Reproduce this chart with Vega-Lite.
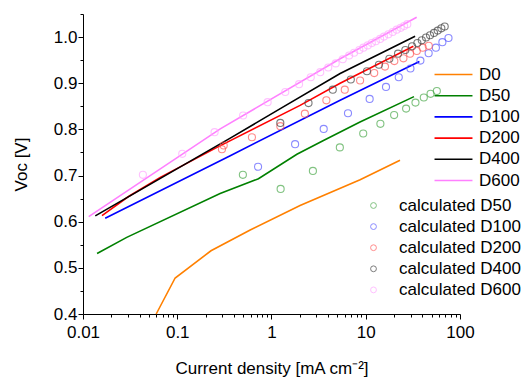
{
  "$schema": "https://vega.github.io/schema/vega-lite/v6.json",
  "width": 377,
  "height": 300,
  "autosize": "none",
  "padding": {"left": 83, "top": 14, "right": 69, "bottom": 66},
  "config": {
    "font": "Liberation Sans",
    "view": {"stroke": null},
    "axis": {"grid": false, "domainColor": "#000", "tickColor": "#000", "labelColor": "#000", "titleColor": "#000", "labelFontSize": 17, "titleFontSize": 17, "titleFontWeight": "normal", "labelFont": "Liberation Sans", "titleFont": "Liberation Sans"},
    "legend": {"labelFont": "Liberation Sans", "labelFontSize": 17, "labelColor": "#000", "padding": 0, "titlePadding": 0}
  },
  "datasets": {
    "lines": [
      {"x": 0.0598, "y": 0.4, "series": "D0"},
      {"x": 0.095, "y": 0.478, "series": "D0"},
      {"x": 0.228, "y": 0.537, "series": "D0"},
      {"x": 0.594, "y": 0.582, "series": "D0"},
      {"x": 2.01, "y": 0.635, "series": "D0"},
      {"x": 8.71, "y": 0.691, "series": "D0"},
      {"x": 23.1, "y": 0.733, "series": "D0"},
      {"x": 0.0141, "y": 0.531, "series": "D50"},
      {"x": 0.0291, "y": 0.566, "series": "D50"},
      {"x": 0.285, "y": 0.661, "series": "D50"},
      {"x": 0.727, "y": 0.693, "series": "D50"},
      {"x": 1.86, "y": 0.746, "series": "D50"},
      {"x": 3.56, "y": 0.776, "series": "D50"},
      {"x": 8.69, "y": 0.816, "series": "D50"},
      {"x": 32.5, "y": 0.871, "series": "D50"},
      {"x": 0.0172, "y": 0.6075, "series": "D100"},
      {"x": 0.365, "y": 0.743, "series": "D100"},
      {"x": 5.35, "y": 0.863, "series": "D100"},
      {"x": 37.1, "y": 0.947, "series": "D100"},
      {"x": 0.0159, "y": 0.613, "series": "D200"},
      {"x": 0.0304, "y": 0.6545, "series": "D200"},
      {"x": 0.066, "y": 0.696, "series": "D200"},
      {"x": 0.264, "y": 0.761, "series": "D200"},
      {"x": 2.01, "y": 0.852, "series": "D200"},
      {"x": 5.35, "y": 0.9, "series": "D200"},
      {"x": 32.0, "y": 0.98, "series": "D200"},
      {"x": 0.0135, "y": 0.6126, "series": "D400"},
      {"x": 0.365, "y": 0.781, "series": "D400"},
      {"x": 1.24, "y": 0.845, "series": "D400"},
      {"x": 5.35, "y": 0.921, "series": "D400"},
      {"x": 33.4, "y": 1.0016, "series": "D400"},
      {"x": 0.0115, "y": 0.611, "series": "D600"},
      {"x": 0.286, "y": 0.801, "series": "D600"},
      {"x": 5.35, "y": 0.953, "series": "D600"},
      {"x": 34.7, "y": 1.043, "series": "D600"}
    ],
    "calc": [
      {"x": 0.497, "y": 0.7015, "series": "calculated D50"},
      {"x": 1.25, "y": 0.671, "series": "calculated D50"},
      {"x": 2.75, "y": 0.71, "series": "calculated D50"},
      {"x": 5.31, "y": 0.761, "series": "calculated D50"},
      {"x": 9.4, "y": 0.791, "series": "calculated D50"},
      {"x": 14.3, "y": 0.812, "series": "calculated D50"},
      {"x": 20.0, "y": 0.831, "series": "calculated D50"},
      {"x": 26.8, "y": 0.845, "series": "calculated D50"},
      {"x": 33.7, "y": 0.858, "series": "calculated D50"},
      {"x": 41.3, "y": 0.869, "series": "calculated D50"},
      {"x": 48.7, "y": 0.877, "series": "calculated D50"},
      {"x": 56.8, "y": 0.883, "series": "calculated D50"},
      {"x": 0.72, "y": 0.719, "series": "calculated D100"},
      {"x": 1.78, "y": 0.768, "series": "calculated D100"},
      {"x": 3.58, "y": 0.801, "series": "calculated D100"},
      {"x": 6.48, "y": 0.835, "series": "calculated D100"},
      {"x": 11.0, "y": 0.866, "series": "calculated D100"},
      {"x": 16.4, "y": 0.892, "series": "calculated D100"},
      {"x": 22.4, "y": 0.913, "series": "calculated D100"},
      {"x": 29.8, "y": 0.932, "series": "calculated D100"},
      {"x": 38.0, "y": 0.949, "series": "calculated D100"},
      {"x": 46.5, "y": 0.965, "series": "calculated D100"},
      {"x": 55.5, "y": 0.977, "series": "calculated D100"},
      {"x": 65.0, "y": 0.989, "series": "calculated D100"},
      {"x": 75.5, "y": 0.998, "series": "calculated D100"},
      {"x": 0.298, "y": 0.757, "series": "calculated D200"},
      {"x": 0.311, "y": 0.765, "series": "calculated D200"},
      {"x": 0.62, "y": 0.783, "series": "calculated D200"},
      {"x": 1.24, "y": 0.807, "series": "calculated D200"},
      {"x": 2.26, "y": 0.834, "series": "calculated D200"},
      {"x": 3.82, "y": 0.863, "series": "calculated D200"},
      {"x": 5.99, "y": 0.886, "series": "calculated D200"},
      {"x": 8.71, "y": 0.906, "series": "calculated D200"},
      {"x": 12.3, "y": 0.922, "series": "calculated D200"},
      {"x": 16.0, "y": 0.936, "series": "calculated D200"},
      {"x": 20.1, "y": 0.948, "series": "calculated D200"},
      {"x": 25.1, "y": 0.954, "series": "calculated D200"},
      {"x": 29.5, "y": 0.964, "series": "calculated D200"},
      {"x": 34.8, "y": 0.97, "series": "calculated D200"},
      {"x": 40.2, "y": 0.977, "series": "calculated D200"},
      {"x": 46.6, "y": 0.981, "series": "calculated D200"},
      {"x": 1.24, "y": 0.814, "series": "calculated D400"},
      {"x": 2.47, "y": 0.857, "series": "calculated D400"},
      {"x": 4.47, "y": 0.886, "series": "calculated D400"},
      {"x": 6.94, "y": 0.908, "series": "calculated D400"},
      {"x": 10.3, "y": 0.926, "series": "calculated D400"},
      {"x": 13.8, "y": 0.94, "series": "calculated D400"},
      {"x": 17.8, "y": 0.953, "series": "calculated D400"},
      {"x": 22.0, "y": 0.964, "series": "calculated D400"},
      {"x": 26.3, "y": 0.972, "series": "calculated D400"},
      {"x": 31.0, "y": 0.98, "series": "calculated D400"},
      {"x": 35.3, "y": 0.987, "series": "calculated D400"},
      {"x": 39.3, "y": 0.993, "series": "calculated D400"},
      {"x": 43.6, "y": 0.999, "series": "calculated D400"},
      {"x": 48.1, "y": 1.004, "series": "calculated D400"},
      {"x": 53.0, "y": 1.009, "series": "calculated D400"},
      {"x": 58.0, "y": 1.014, "series": "calculated D400"},
      {"x": 63.4, "y": 1.019, "series": "calculated D400"},
      {"x": 68.8, "y": 1.023, "series": "calculated D400"},
      {"x": 0.0432, "y": 0.7015, "series": "calculated D600"},
      {"x": 0.113, "y": 0.747, "series": "calculated D600"},
      {"x": 0.249, "y": 0.794, "series": "calculated D600"},
      {"x": 0.5, "y": 0.83, "series": "calculated D600"},
      {"x": 0.91, "y": 0.859, "series": "calculated D600"},
      {"x": 1.4, "y": 0.881, "series": "calculated D600"},
      {"x": 1.96, "y": 0.898, "series": "calculated D600"},
      {"x": 2.61, "y": 0.913, "series": "calculated D600"},
      {"x": 3.29, "y": 0.924, "series": "calculated D600"},
      {"x": 4.0, "y": 0.934, "series": "calculated D600"},
      {"x": 4.8, "y": 0.943, "series": "calculated D600"},
      {"x": 5.7, "y": 0.952, "series": "calculated D600"},
      {"x": 6.66, "y": 0.96, "series": "calculated D600"},
      {"x": 7.52, "y": 0.966, "series": "calculated D600"},
      {"x": 8.55, "y": 0.972, "series": "calculated D600"},
      {"x": 9.44, "y": 0.977, "series": "calculated D600"},
      {"x": 10.5, "y": 0.982, "series": "calculated D600"},
      {"x": 11.6, "y": 0.987, "series": "calculated D600"},
      {"x": 12.8, "y": 0.991, "series": "calculated D600"},
      {"x": 14.2, "y": 0.996, "series": "calculated D600"},
      {"x": 15.6, "y": 1.001, "series": "calculated D600"},
      {"x": 17.4, "y": 1.006, "series": "calculated D600"},
      {"x": 19.3, "y": 1.011, "series": "calculated D600"},
      {"x": 21.3, "y": 1.016, "series": "calculated D600"},
      {"x": 23.5, "y": 1.02, "series": "calculated D600"},
      {"x": 25.5, "y": 1.024, "series": "calculated D600"},
      {"x": 27.6, "y": 1.028, "series": "calculated D600"}
    ]
  },
  "layer": [
    {
      "data": {"name": "lines"},
      "mark": {"type": "line", "strokeWidth": 1.6},
      "encoding": {
        "x": {"field": "x", "type": "quantitative", "scale": {"type": "log", "domain": [0.01, 100], "nice": false},
          "axis": {"orient": "bottom", "values": [0.01, 0.1, 1, 10, 100], "format": "~g", "tickSize": 5, "labelPadding": 5, "title": "Current density [mA cm⁻²]", "titlePadding": 20, "labelFlush": false, "labelOverlap": false}},
        "y": {"field": "y", "type": "quantitative", "scale": {"domain": [0.4, 1.05], "nice": false, "zero": false},
          "axis": {"orient": "left", "values": [0.4, 0.5, 0.6, 0.7, 0.8, 0.9, 1.0], "format": ".1f", "tickSize": 5, "labelPadding": 1, "title": "Voc [V]", "titlePadding": 23}},
        "color": {"field": "series", "type": "nominal",
          "scale": {"domain": ["D0", "D50", "D100", "D200", "D400", "D600"], "range": ["#ff8000", "#008000", "#0000ff", "#ff0000", "#000000", "#ff80ff"]},
          "legend": {"title": null, "orient": "none", "legendX": 362, "legendY": 52, "symbolType": "M-4,0H4", "symbolSize": 90, "symbolStrokeWidth": 1.6, "labelOffset": 17, "rowPadding": 3.2}}
      }
    },
    {
      "data": {"name": "calc"},
      "mark": {"type": "point", "shape": "circle", "filled": false, "size": 50, "strokeWidth": 1.1},
      "encoding": {
        "x": {"field": "x", "type": "quantitative",
          "axis": {"orient": "bottom", "values": [0.02, 0.03, 0.04, 0.05, 0.06, 0.07, 0.08, 0.09, 0.2, 0.3, 0.4, 0.5, 0.6, 0.7, 0.8, 0.9, 2, 3, 4, 5, 6, 7, 8, 9, 20, 30, 40, 50, 60, 70, 80, 90], "labels": false, "domain": false, "tickSize": 3, "title": null}},
        "y": {"field": "y", "type": "quantitative",
          "axis": {"orient": "left", "values": [0.45, 0.55, 0.65, 0.75, 0.85, 0.95, 1.05], "labels": false, "domain": false, "tickSize": 3, "title": null}},
        "color": {"field": "series", "type": "nominal",
          "scale": {"domain": ["calculated D50", "calculated D100", "calculated D200", "calculated D400", "calculated D600"], "range": ["#4daa4d", "#5a5aff", "#ff5a5a", "#444444", "#ffa8ff"]},
          "legend": {"title": null, "orient": "none", "legendX": 282, "legendY": 183, "symbolType": "circle", "symbolSize": 34, "symbolStrokeWidth": 1, "symbolFillColor": "transparent", "labelOffset": 17, "rowPadding": 3.1}}
      }
    }
  ],
  "resolve": {"scale": {"color": "independent"}, "axis": {"x": "independent", "y": "independent"}}
}
